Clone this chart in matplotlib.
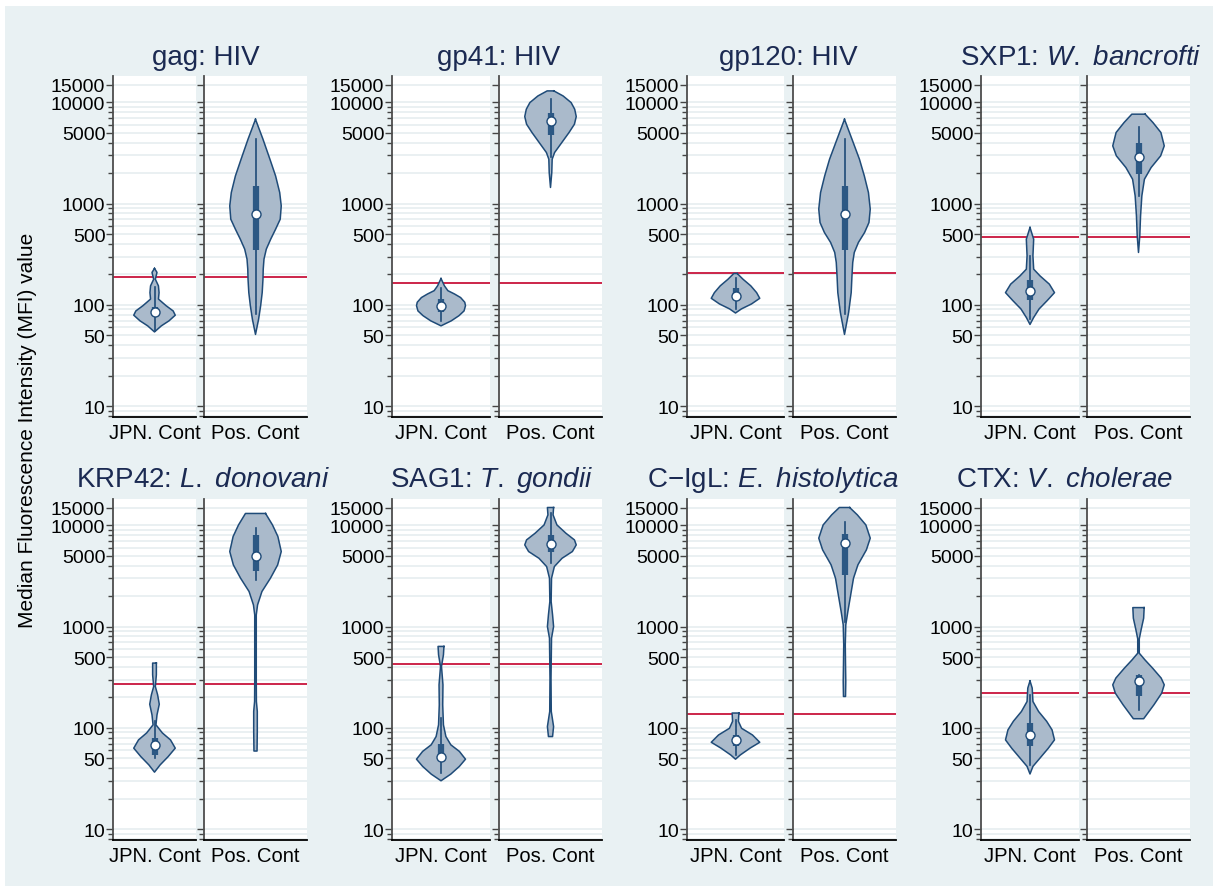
import numpy as np
import matplotlib.pyplot as plt
from matplotlib.patches import Rectangle
from matplotlib.ticker import FixedLocator, NullFormatter

plt.rcParams['font.family'] = ['Liberation Sans', 'DejaVu Sans']
plt.rcParams['mathtext.fontset'] = 'custom'
plt.rcParams['mathtext.rm'] = 'Liberation Sans'
plt.rcParams['mathtext.it'] = 'Liberation Sans:italic'

titles = ["gag: HIV", "gp41: HIV", "gp120: HIV", r"SXP1: $\mathit{W.\ bancrofti}$",
          r"KRP42: $\mathit{L.\ donovani}$", r"SAG1: $\mathit{T.\ gondii}$",
          r"C−IgL: $\mathit{E.\ histolytica}$", r"CTX: $\mathit{V.\ cholerae}$"]
groups = ["JPN. Cont", "Pos. Cont"]
cutoffs = [188, 166, 207, 470, 274, 429, 137, 223]
yticks = [10, 50, 100, 500, 1000, 5000, 10000, 15000]

# violin outlines, top to bottom: (MFI, relative width)
gag_jpn = [(229, 0), (209, 0.12), (179, 0.04), (154, 0.19), (132, 0.22), (114, 0.19), (98, 0.56),
           (87, 0.9), (79, 1.0), (69.5, 0.7), (62, 0.33), (54, 0)]
gag_pos = [(6800, 0), (4325, 0.29), (2744, 0.56), (1876, 0.78), (1285, 0.94), (948, 1.0), (701, 0.96),
           (558, 0.78), (445, 0.59), (355, 0.42), (283, 0.33), (225, 0.30), (179, 0.29), (132, 0.26),
           (98, 0.2), (72, 0.12), (51, 0)]
gp41_jpn = [(182, 0), (154, 0.14), (138, 0.28), (128, 0.55), (118, 0.8), (106, 0.97), (98, 1.0),
            (87, 0.94), (78, 0.73), (69.5, 0.42), (62, 0)]
gp41_pos = [(12970, 0.13), (11560, 0.49), (9950, 0.8), (8550, 0.94), (7240, 1.0), (6085, 0.93),
            (5035, 0.72), (4010, 0.44), (3195, 0.16), (2744, 0.065), (2028, 0.05), (1443, 0)]
gp120_jpn = [(204, 0.07), (179, 0.31), (154, 0.63), (132, 0.87), (116, 1.0), (102, 0.66), (91, 0.24), (83, 0)]
gp120_pos = [(6800, 0), (4325, 0.29), (2744, 0.58), (1876, 0.77), (1285, 0.93), (881, 1.0), (650, 0.95),
             (518, 0.78), (413, 0.54), (329, 0.38), (262, 0.32), (193, 0.29), (132, 0.26), (84, 0.16), (51, 0)]
sxp1_jpn = [(581, 0), (445, 0.15), (305, 0.12), (225, 0.15), (193, 0.41), (160, 0.79), (132, 1.0),
            (110, 0.70), (91, 0.37), (75, 0.15), (64, 0)]
sxp1_pos = [(7640, 0.26), (6320, 0.56), (5035, 0.87), (3715, 1.0), (2960, 0.86), (2270, 0.49),
            (1740, 0.23), (1192, 0.13), (757, 0.08), (480, 0.05), (329, 0)]
krp42_jpn = [(436, 0.09), (334, 0.09), (256, 0.04), (212, 0.15), (171, 0.23), (134, 0.12), (107, 0.07),
             (89, 0.38), (76, 0.77), (63, 1.0), (52, 0.66), (43, 0.27), (36.5, 0)]
krp42_pos = [(13100, 0.39), (10090, 0.66), (7750, 0.87), (5510, 1.0), (4065, 0.86), (3005, 0.58),
             (2220, 0.25), (1637, 0.08), (1305, 0.03), (287, 0.03), (182, 0.035), (145, 0.07),
             (92, 0.07), (59, 0.06)]
sag1_jpn = [(637, 0.12), (526, 0.1), (404, 0.02), (266, 0.08), (169, 0.07), (107, 0.1), (82, 0.2),
            (68, 0.4), (58.5, 0.75), (49, 1.0), (41.6, 0.75), (34.9, 0.4), (30, 0)]
sag1_pos = [(15000, 0.12), (12680, 0.1), (10090, 0.25), (8350, 0.6), (7180, 0.93), (6410, 1.0),
            (5510, 0.85), (4730, 0.45), (3915, 0.15), (3005, 0.04), (1770, 0.025), (1305, 0.08),
            (1002, 0.12), (768, 0.04), (310, 0.02), (145, 0.03), (103, 0.12), (82, 0.08)]
cigl_jpn = [(140, 0.14), (116, 0.12), (99, 0.25), (85, 0.7), (72, 1.0), (63, 0.6), (54, 0.2), (49, 0)]
cigl_pos = [(15000, 0.2), (12680, 0.5), (10090, 0.83), (7470, 1.0), (5720, 0.85), (4065, 0.52),
            (3005, 0.35), (2055, 0.24), (1406, 0.13), (1040, 0.05), (660, 0.03), (419, 0.04),
            (287, 0.05), (204, 0.04)]
ctx_jpn = [(291, 0), (247, 0.09), (182, 0.12), (145, 0.35), (116, 0.68), (95.5, 0.9), (76, 1.0),
           (63, 0.75), (50, 0.4), (41.6, 0.12), (35, 0)]
ctx_pos = [(1540, 0.22), (1210, 0.2), (927, 0.1), (756, 0.03), (546, 0.03), (469, 0.25), (388, 0.55),
           (310, 0.88), (266, 1.0), (220, 0.9), (169, 0.6), (123, 0.2)]

# box stats: whisker low, q1, median, q3, whisker high
gag_jpn_box = [55, 78, 84, 95, 150]
gag_pos_box = [81, 349, 785, 1475, 4325]
gp41_jpn_box = [70, 84, 98, 114, 145]
gp41_pos_box = [2900, 4730, 6550, 7925, 10900]
gp120_jpn_box = [91, 118, 123, 148, 185]
gp120_pos_box = [81, 347, 785, 1475, 4325]
sxp1_jpn_box = [73, 112, 138, 177, 305]
sxp1_pos_box = [1200, 1950, 2915, 4010, 5770]
krp42_jpn_box = [50, 54, 68, 80, 116]
krp42_pos_box = [2890, 3550, 5010, 8040, 9500]
sag1_jpn_box = [36, 49, 51, 70, 125]
sag1_pos_box = [4220, 5510, 6500, 8040, 13150]
cigl_jpn_box = [54, 65.5, 76, 85, 120]
cigl_pos_box = [1100, 3240, 6650, 8170, 10890]
ctx_jpn_box = [43, 65.5, 85, 111, 212]
ctx_pos_box = [151, 205, 293, 330, 335]

violins = [(gag_jpn, gag_jpn_box, gag_pos, gag_pos_box),
           (gp41_jpn, gp41_jpn_box, gp41_pos, gp41_pos_box),
           (gp120_jpn, gp120_jpn_box, gp120_pos, gp120_pos_box),
           (sxp1_jpn, sxp1_jpn_box, sxp1_pos, sxp1_pos_box),
           (krp42_jpn, krp42_jpn_box, krp42_pos, krp42_pos_box),
           (sag1_jpn, sag1_jpn_box, sag1_pos, sag1_pos_box),
           (cigl_jpn, cigl_jpn_box, cigl_pos, cigl_pos_box),
           (ctx_jpn, ctx_jpn_box, ctx_pos, ctx_pos_box)]

FILL = '#aabacb'
EDGE = '#1f4b78'
BOXC = '#2c5884'
RED = '#c8143c'
GRID = '#e6edf0'
BG = '#e9f1f3'
TITLE = '#1b2a52'

W, H = 1215, 887
fig = plt.figure(figsize=(W / 100, H / 100), dpi=100, facecolor='white')
fig.patches.append(Rectangle((5 / W, 0), 1208 / W, 1 - 7 / H, transform=fig.transFigure,
                             facecolor=BG, edgecolor='none', zorder=-10))

# pixel layout of the sub panels
cols = [((113, 196), (204, 307)), ((392, 490), (499, 602)),
        ((687, 784), (793, 896)), ((981, 1079), (1087, 1190))]
rows = [(77, 418), (500, 841)]
title_x = [206, 499, 788, 1081, 203, 492, 773, 1064]
title_base = [65, 487]


def draw_violin(ax, prof, box):
    v = np.array([p[0] for p in prof], float)
    w = np.array([p[1] for p in prof], float) * 0.5
    ax.fill_betweenx(v, -w, w, facecolor=FILL, edgecolor='none', zorder=3)
    xs = np.concatenate([w, -w[::-1], [w[0]]])
    ys = np.concatenate([v, v[::-1], [v[0]]])
    ax.plot(xs, ys, color=EDGE, lw=1.1, zorder=4)
    lo, q1, med, q3, hi = box
    ax.plot([0, 0], [lo, hi], color=EDGE, lw=1.2, zorder=5)
    ax.plot([0, 0], [q1, q3], color=BOXC, lw=4.5, solid_capstyle='butt', zorder=6)
    ax.plot([0], [med], 'o', ms=6.5, mfc='white', mec=EDGE, mew=1.0, zorder=7)


minor = [m * 10 ** e for e in range(0, 5) for m in range(2, 10)]

for i in range(8):
    r, c = divmod(i, 4)
    top, bot = rows[r]
    for j in range(2):
        x0, x1 = cols[c][j]
        ax = fig.add_axes([x0 / W, 1 - bot / H, (x1 - x0) / W, (bot - top) / H])
        ax.set_facecolor('white')
        ax.set_yscale('log')
        ax.set_ylim(7.8, 18200)
        ax.set_xlim(-1, 1)
        ax.yaxis.set_major_locator(FixedLocator(yticks))
        ax.yaxis.set_minor_locator(FixedLocator(minor))
        ax.yaxis.set_minor_formatter(NullFormatter())
        if j == 0:
            ax.set_yticklabels([str(t) for t in yticks])
        else:
            ax.set_yticklabels([])
        ax.tick_params(axis='y', which='major', length=5, width=1.0, color='#444444',
                       labelsize=14, pad=0.5)
        ax.tick_params(axis='y', which='minor', length=3.5, width=1.0, color='#444444')
        ax.set_xticks([0])
        ax.set_xticklabels([groups[j]])
        ax.tick_params(axis='x', length=0, labelsize=14.5, pad=4)
        ax.grid(axis='y', which='both', color=GRID, lw=1.2, zorder=0)
        ax.set_axisbelow(True)
        for s in ['top', 'right']:
            ax.spines[s].set_visible(False)
        ax.spines['left'].set_color('#4d4d4d')
        ax.spines['left'].set_linewidth(1.3)
        ax.spines['bottom'].set_color('black')
        ax.spines['bottom'].set_linewidth(1.3)
        ax.axhline(cutoffs[i], color=RED, lw=1.3, zorder=2)
        prof = violins[i][2 * j]
        box = violins[i][2 * j + 1]
        draw_violin(ax, prof, box)
    fig.text(title_x[i] / W, 1 - title_base[r] / H, titles[i], ha='center', va='baseline',
             fontsize=20, color=TITLE)

fig.text(28 / W, 1 - 430 / H, "Median Fluorescence Intensity (MFI) value", rotation=90,
         ha='center', va='center', fontsize=15)

fig.savefig('out.png', dpi=100, facecolor='white')
